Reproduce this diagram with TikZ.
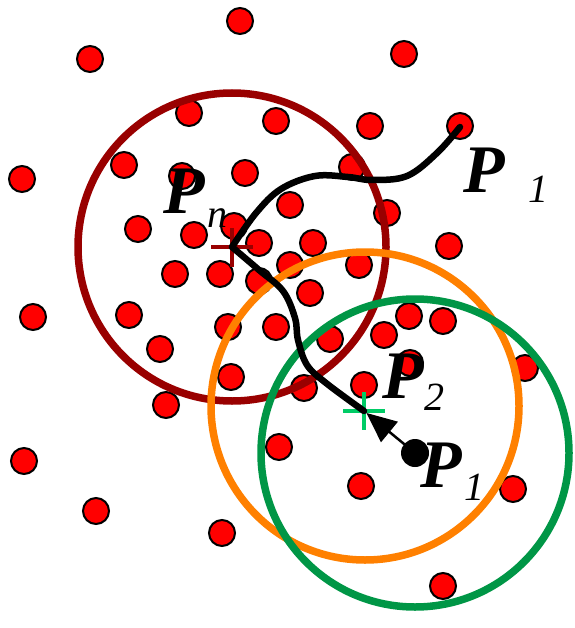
\documentclass[tikz,border=0pt]{standalone}
\usepackage{fontspec}
\setmainfont{Liberation Serif}
\usetikzlibrary{arrows.meta,calc}
\definecolor{ringred}{RGB}{153,0,0}
\definecolor{ringorange}{RGB}{255,128,0}
\definecolor{ringgreen}{RGB}{0,150,70}
\definecolor{crossgreen}{RGB}{0,204,102}
\tikzset{
  pt/.style={circle,fill=red,draw=black,line width=2pt,minimum size=26pt,inner sep=0pt},
  ring/.style={line width=7.5pt},
  cross/.style={line width=4.5pt},
  bigP/.style={font=\fontsize{68}{68}\selectfont\bfseries\itshape,inner sep=0pt,anchor=base west},
  subs/.style={font=\fontsize{40}{40}\selectfont\itshape,inner sep=0pt,anchor=base west},
  track/.style={line width=6.5pt,line cap=round,line join=round},
}
\begin{document}
\begin{tikzpicture}[x=1pt,y=-1pt]
\useasboundingbox (0,0) rectangle (574,628);
% dots
\foreach \x/\y [count=\i] in {240/21,90/59,404/54,189/113,276/121,370/126,460/126,124/165,22/179,182/176,245/173,352/167,290/205,387/213,138/229,194/235,234/226,259/243,313/243,449/246,175/274,220/274,290/265,359/265,259/281,310/293,33/317,129/315,228/327,276/327,330/339,384/335,409/316,443/321,160/349,231/377,304/388,364/385,410/363,525/368,166/405,24/461,279/447,361/486,513/489,96/511,222/533,443/586}
  \node[pt] (d\i) at (\x,\y) {};
% centres
\coordinate (cn) at (232,247);
\coordinate (c2) at (364,411);
\coordinate (c1) at (415,453);
\coordinate (cs) at (460,127);
\coordinate (co) at (365,406);
% rings
\draw[ring,ringred] (cn) circle (154);
\draw[ring,ringorange] (co) circle (154);
\draw[ring,ringgreen] (c1) circle (154);
% crosses
\draw[cross,ringred] ($(cn)+(-21,0)$) -- ($(cn)+(21,0)$) ($(cn)+(0,-19)$) -- ($(cn)+(0,20)$);
\draw[cross,crossgreen] ($(c2)+(-21,0)$) -- ($(c2)+(21,0)$) ($(c2)+(0,-19)$) -- ($(c2)+(0,19)$);
% track
\draw[track] plot[smooth,tension=0.6] coordinates {(c2) (326,383) (307,365) (298,340) (295,318) (283,291) (259,270) (cn)};
\draw[track] plot[smooth,tension=0.6] coordinates {(cn) (256,213) (281,189) (315,176) (348,177) (372,180) (407,176) (437,153) (cs)};
% start point and arrow
\node[circle,fill=black,minimum size=28pt,inner sep=0pt] (p1) at (c1) {};
\draw[line width=2.5pt,-{Triangle[length=30pt,width=26pt]},shorten >=3pt] (p1.center) -- (c2);
% labels
\node[bigP] (lPn) at (163,213) {P};
\node[subs] (lPnS) at (207,227) {n};
\node[bigP] (lPs) at (463,193) {P};
\node[subs] (lPsS) at (528,203) {1};
\node[bigP] (lP2) at (382,398) {P};
\node[subs] (lP2S) at (424,410) {2};
\node[bigP] (lP1) at (420,487) {P};
\node[subs] (lP1S) at (464,500) {1};
\end{tikzpicture}
\end{document}
